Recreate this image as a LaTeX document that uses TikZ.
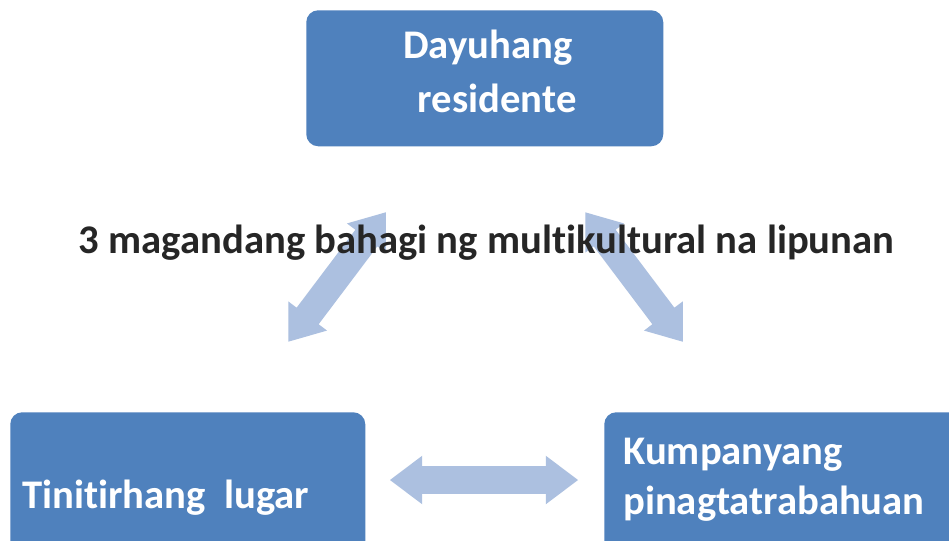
\documentclass[tikz,border=0pt]{standalone}
\usepackage{fontspec}
\setmainfont{Carlito}[Ligatures={NoCommon}]
\usepackage{tikz}
\usetikzlibrary{shapes.arrows}

\definecolor{boxblue}{RGB}{79,129,189}
\definecolor{arrowblue}{RGB}{172,192,224}
\definecolor{darktext}{RGB}{38,38,38}

\tikzset{
  blok/.style={fill=boxblue, rounded corners=9pt, anchor=north west, inner sep=0pt},
  bloktext/.style={text=white, inner sep=0pt, anchor=base west, align=left},
  palaso/.style={fill=arrowblue, double arrow, double arrow tip angle=74,
    double arrow head extend=7.875pt, inner xsep=0pt, inner ysep=10.125pt}
}

\begin{document}
\begin{tikzpicture}[x=0.75pt, y=-0.75pt]
        \clip (0,0) rectangle (949,540);
        \fill[white] (0,0) rectangle (949,540);

        % the three boxes
        \node[blok, minimum width=267.75pt, minimum height=102pt] (dayuhang) at (306,10) {};
        \node[blok, minimum width=266.25pt, minimum height=114pt] (lugar) at (10,412) {};
        \node[blok, minimum width=270pt, minimum height=114pt] (kumpanya) at (604,412) {};

        % arrows between them
        \node[palaso, minimum height=121.5pt, rotate=53] (palasoA) at (337,277) {};
        \node[palaso, minimum height=121.5pt, rotate=127] (palasoB) at (634,277) {};
        \node[palaso, minimum height=141pt] (palasoC) at (484,480) {};

        % texts (base = last line)
        \node[bloktext, font=\fontsize{30.5}{40.5}\selectfont\bfseries] (dayuhangtxt) at (403,112)
          {Dayuhang\\\hspace*{11pt}residente};
        \node[bloktext, font=\fontsize{30.5}{37.5}\selectfont\bfseries] (lugartxt) at (22,508)
          {Tinitirhang\ \ lugar};
        \node[bloktext, font=\fontsize{30.5}{37.5}\selectfont\bfseries] (kumpanyatxt) at (623,514)
          {Kumpanyang\\pinagtatrabahuan};
        \node[text=darktext, inner sep=0pt, anchor=base, font=\fontsize{30.5}{36}\selectfont\bfseries] (tema) at (486.5,253)
          {3 magandang bahagi ng multikultural na lipunan};
\end{tikzpicture}
\end{document}
